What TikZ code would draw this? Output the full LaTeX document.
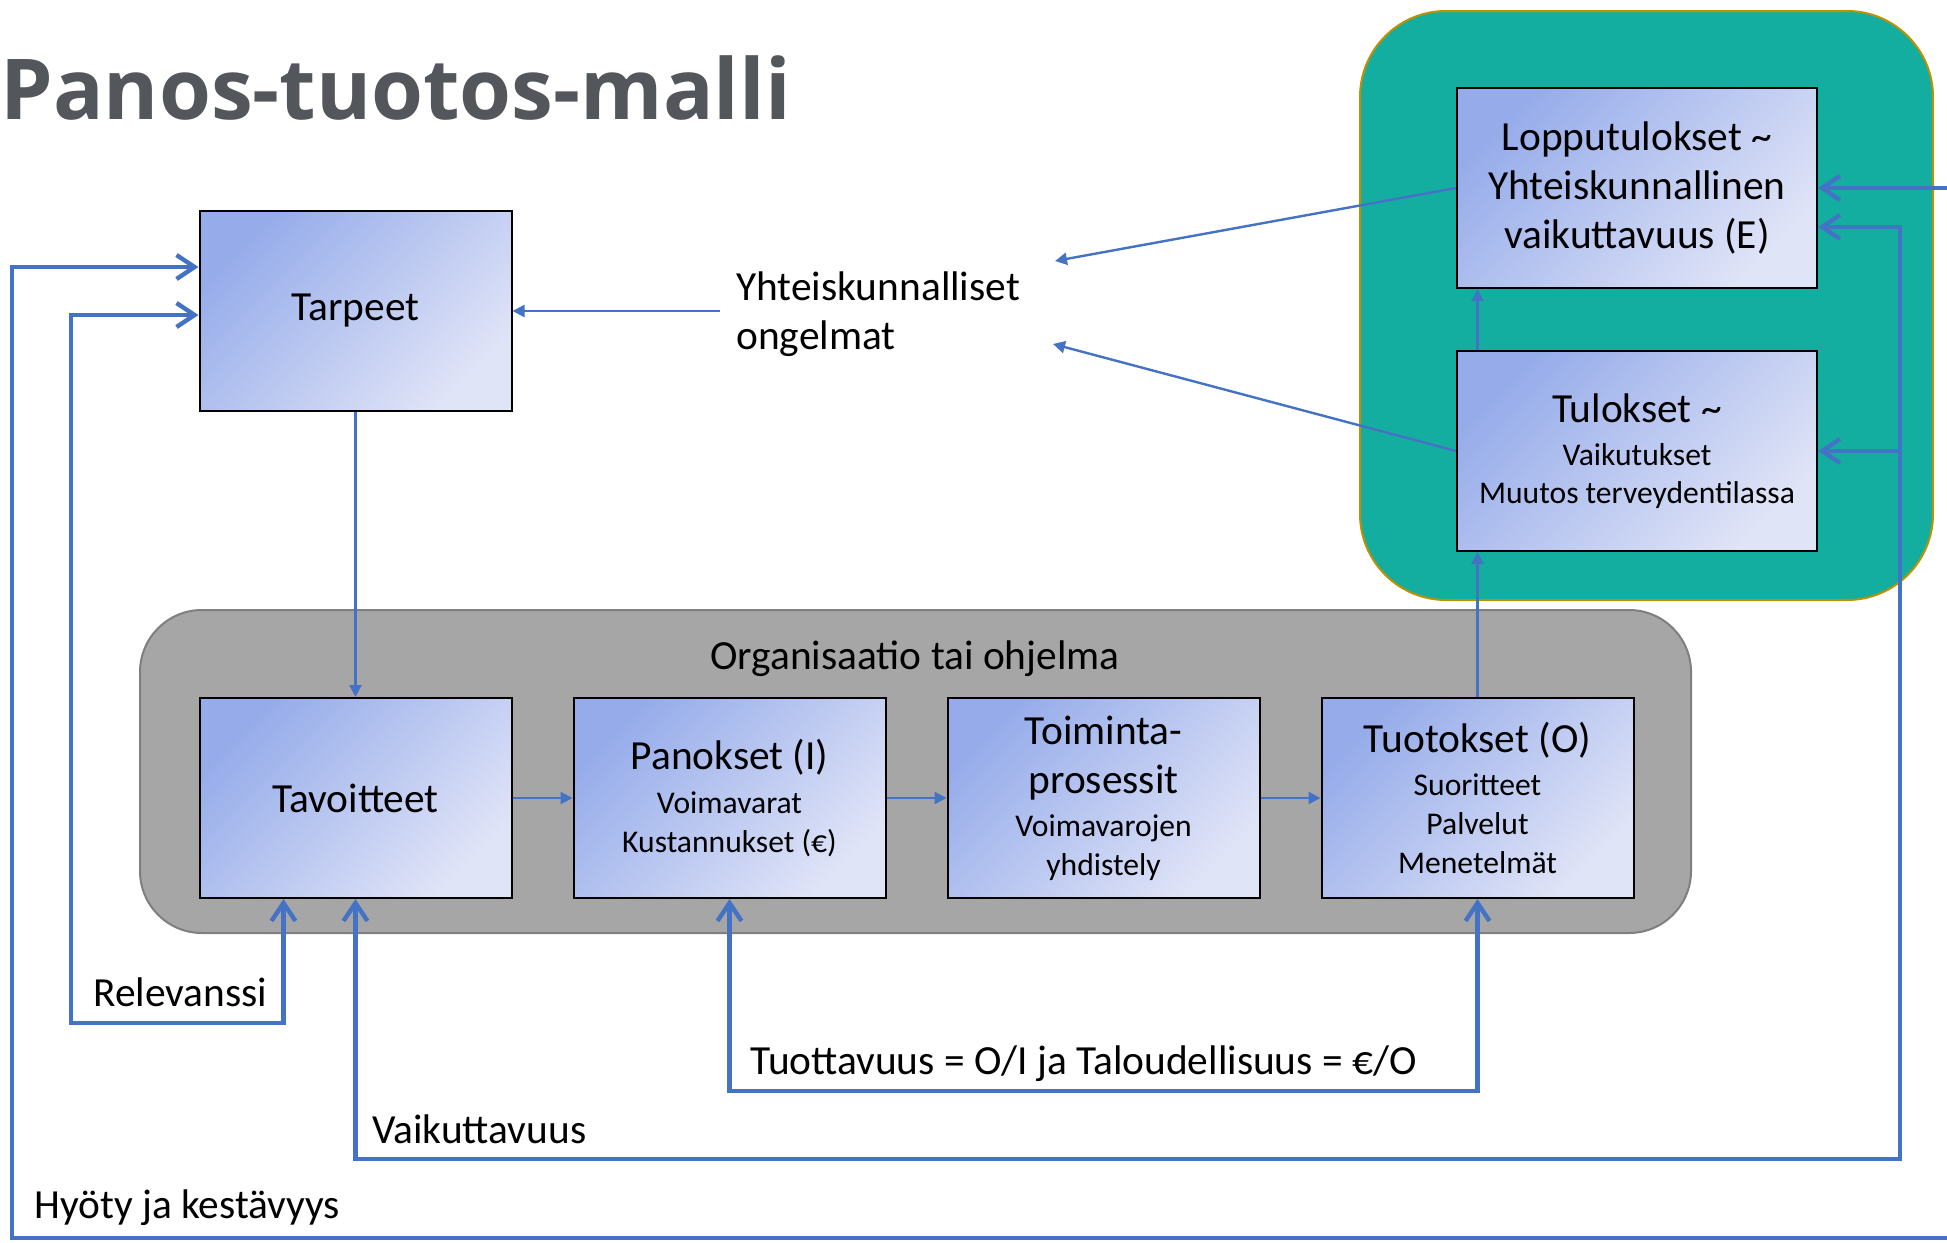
\documentclass[tikz,border=0pt]{standalone}
\usepackage{fontspec}
\setmainfont{Carlito}
\newfontfamily\titlefont{Open Sans}
\usepackage{tikz}
\usetikzlibrary{arrows.meta}
\usetikzlibrary{positioning}
\definecolor{boxtop}{RGB}{150,172,234}
\definecolor{boxbot}{RGB}{224,228,247}
\definecolor{fbblue}{RGB}{68,114,196}
\definecolor{tealbg}{RGB}{19,174,160}
\definecolor{goldline}{RGB}{191,144,0}
\definecolor{greybg}{RGB}{166,166,166}
\definecolor{greyline}{RGB}{127,127,127}
\definecolor{titlegrey}{RGB}{83,86,90}
\newcommand{\sm}{\fontsize{15.8}{19}\selectfont}
\tikzset{box/.style={draw=black, line width=1pt, top color=boxtop, bottom color=boxbot,
         shading angle=45, minimum width=156pt, minimum height=100pt,
         align=center, inner sep=0pt, font=\fontsize{20.7}{24.5}\selectfont},
         widebox/.style={box, minimum width=180pt},
         txt/.style={inner sep=0pt, font=\fontsize{20.7}{24.5}\selectfont},
         link/.style={draw=fbblue, line width=1.2pt, -{Triangle[length=6pt,width=6pt]}},
         feed/.style={draw=fbblue, line width=2.2pt, >={Straight Barb[length=9pt,width=12pt]}},
         tealback/.style={fill=tealbg, draw=goldline, line width=1pt, rounded corners=43pt},
         greyback/.style={fill=greybg, draw=greyline, line width=1pt, rounded corners=31pt}}

\begin{document}
\begin{tikzpicture}[x=0.5pt,y=-0.5pt]
\useasboundingbox (0,0) rectangle (1947,1242);
\clip (0,0) rectangle (1947,1242);

% taustat
\draw[tealback] (1360,11) rectangle (1933,600);
\draw[greyback] (140,610) rectangle (1691,933);

\node[anchor=base west, inner sep=0pt, text=titlegrey,
      font=\titlefont\bfseries\fontsize{42}{50}\selectfont] (otsikko) at (0,119) {Panos-tuotos-malli};
\node[txt] (org) at (915,659) {Organisaatio tai ohjelma};

\node[box] (tavoitteet) at (355.5,798) {Tavoitteet};
\node[box, right=30pt of tavoitteet] (panokset) {Panokset (I)\\[-2.5pt] \sm Voimavarat\\[-5pt] \sm Kustannukset (€)};
\node[box, right=30pt of panokset] (toiminta) {Toiminta-\\prosessit\\[-3pt] \sm Voimavarojen\\[-5pt] \sm yhdistely};
\node[box, right=30pt of toiminta] (tuotokset) {Tuotokset (O)\\[-3pt] \sm Suoritteet\\[-5pt] \sm Palvelut\\[-5pt] \sm Menetelmät};
\node[box, above=142.5pt of tavoitteet] (tarpeet) {Tarpeet};

\node[widebox] (tulokset) at (1637,451) {Tulokset \textasciitilde\\[-3pt] \sm Vaikutukset\\[-5.5pt] \sm Muutos terveydentilassa};
\node[widebox, above=30.5pt of tulokset] (lopputulokset) {Lopputulokset \textasciitilde\\Yhteiskunnallinen\\vaikuttavuus (E)};

\node[txt, align=left, anchor=west, inner xsep=8pt] (ongelmat) at (720,314) {Yhteiskunnalliset\\ongelmat};
\coordinate (ongA) at (1055,261);
\coordinate (ongB) at (1053,344);

% ohuet nuolet
\draw[link] (tarpeet.south) -- (tavoitteet.north);
\draw[link] (tavoitteet.east) -- (panokset.west);
\draw[link] (panokset.east) -- (toiminta.west);
\draw[link] (toiminta.east) -- (tuotokset.west);
\draw[link] (tuotokset.north) -- (tuotokset.north |- tulokset.south);
\draw[link] (tuotokset.north |- tulokset.north) -- (tuotokset.north |- lopputulokset.south);
\draw[link] ([yshift=1.5pt]ongelmat.west) -- ([yshift=1.5pt]ongelmat.west -| tarpeet.east);
\draw[link] (lopputulokset.west) -- (ongA);
\draw[link] (tulokset.west) -- (ongB);

% palautesilmukat
\coordinate (relBL) at (71,1023);
\draw[feed, <->] ([yshift=-2pt]tarpeet.west) -| (relBL) -| ([xshift=-36pt]tavoitteet.south);
\draw[feed, <->] (panokset.south) -- ++(0,192) -| (tuotokset.south);
\coordinate (vaikR) at (1900,1159);
\draw[feed, <->] (tavoitteet.south) |- (vaikR) |- ([yshift=-19.5pt]lopputulokset.east);
\draw[feed, ->] (vaikR |- tulokset.east) -- (tulokset.east);
\coordinate (hyotyBL) at (12,1238);
\coordinate (hyotyR) at (1965,188);
\draw[feed, <->] ([yshift=22pt]tarpeet.west) -| (hyotyBL) -| (hyotyR) -- (lopputulokset.east);

\node[txt, anchor=base west] (relevanssi) at (93,1006) {Relevanssi};
\node[txt, anchor=base west] (tuottavuus) at (750,1074) {Tuottavuus = O/I ja Taloudellisuus = €/O};
\node[txt, anchor=base west] (vaikuttavuus) at (372,1143) {Vaikuttavuus};
\node[txt, anchor=base west] (hyoty) at (34,1218) {Hyöty ja kestävyys};

\end{tikzpicture}
\end{document}
